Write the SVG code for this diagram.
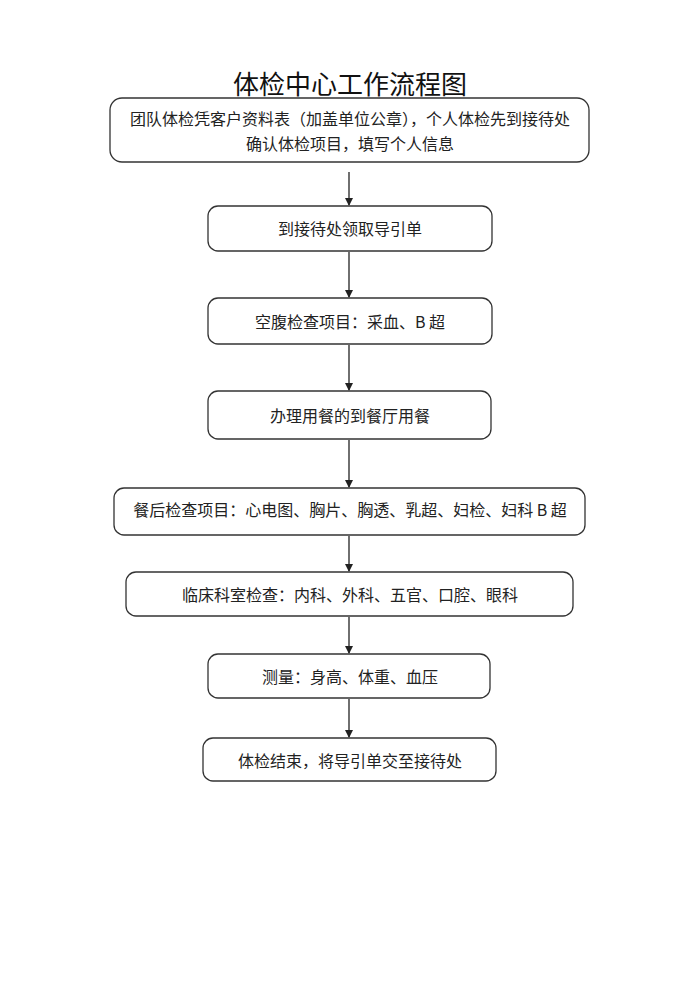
<svg xmlns="http://www.w3.org/2000/svg" width="700" height="989" viewBox="0 0 700 989">
<style>
.box{fill:#fff;stroke:#333;stroke-width:1.3}
.t{font-family:"Noto Sans CJK SC","Noto Sans",sans-serif;font-size:16px;fill:#222;text-anchor:middle;dominant-baseline:central}
.title{font-family:"Noto Sans CJK SC","Noto Sans",sans-serif;font-size:26px;fill:#111;text-anchor:middle;dominant-baseline:central}
.c{stroke:#222;stroke-width:1.3;fill:none;marker-end:url(#ah)}
</style>
<defs>
<marker id="ah" markerWidth="8" markerHeight="10" refX="7" refY="4" orient="auto" markerUnits="userSpaceOnUse" viewBox="0 0 8 8">
<path d="M0,0 L8,4 L0,8 z" fill="#222"/>
</marker>
</defs>
<rect width="700" height="989" fill="#fff"/>
<text class="title" x="350" y="82">体检中心工作流程图</text>
<g id="connectors">
<line class="c" x1="349" y1="172" x2="349" y2="205"/>
<line class="c" x1="349" y1="252" x2="349" y2="297"/>
<line class="c" x1="349" y1="345" x2="349" y2="390"/>
<line class="c" x1="349" y1="440" x2="349" y2="487"/>
<line class="c" x1="349" y1="536" x2="349" y2="571"/>
<line class="c" x1="349" y1="617" x2="349" y2="653"/>
<line class="c" x1="349" y1="699" x2="349" y2="737"/>
</g>
<g id="n1"><rect class="box" x="110" y="98" width="479" height="64" rx="12"/>
<text class="t" x="350" y="118">团队体检凭客户资料表（加盖单位公章），个人体检先到接待处</text>
<text class="t" x="350" y="143">确认体检项目，填写个人信息</text></g>
<g id="n2"><rect class="box" x="208" y="206" width="284" height="45" rx="10"/>
<text class="t" x="350" y="228">到接待处领取导引单</text></g>
<g id="n3"><rect class="box" x="208" y="298" width="284" height="46" rx="10"/>
<text class="t" x="350" y="321">空腹检查项目：采血、B 超</text></g>
<g id="n4"><rect class="box" x="208" y="391" width="283" height="48" rx="10"/>
<text class="t" x="350" y="415">办理用餐的到餐厅用餐</text></g>
<g id="n5"><rect class="box" x="114" y="488" width="471" height="47" rx="10"/>
<text class="t" x="350" y="509">餐后检查项目：心电图、胸片、胸透、乳超、妇检、妇科 B 超</text></g>
<g id="n6"><rect class="box" x="126" y="572" width="447" height="44" rx="10"/>
<text class="t" x="350" y="594">临床科室检查：内科、外科、五官、口腔、眼科</text></g>
<g id="n7"><rect class="box" x="208" y="654" width="282" height="44" rx="10"/>
<text class="t" x="350" y="676">测量：身高、体重、血压</text></g>
<g id="n8"><rect class="box" x="203" y="738" width="293" height="43" rx="10"/>
<text class="t" x="350" y="760">体检结束，将导引单交至接待处</text></g>
</svg>
